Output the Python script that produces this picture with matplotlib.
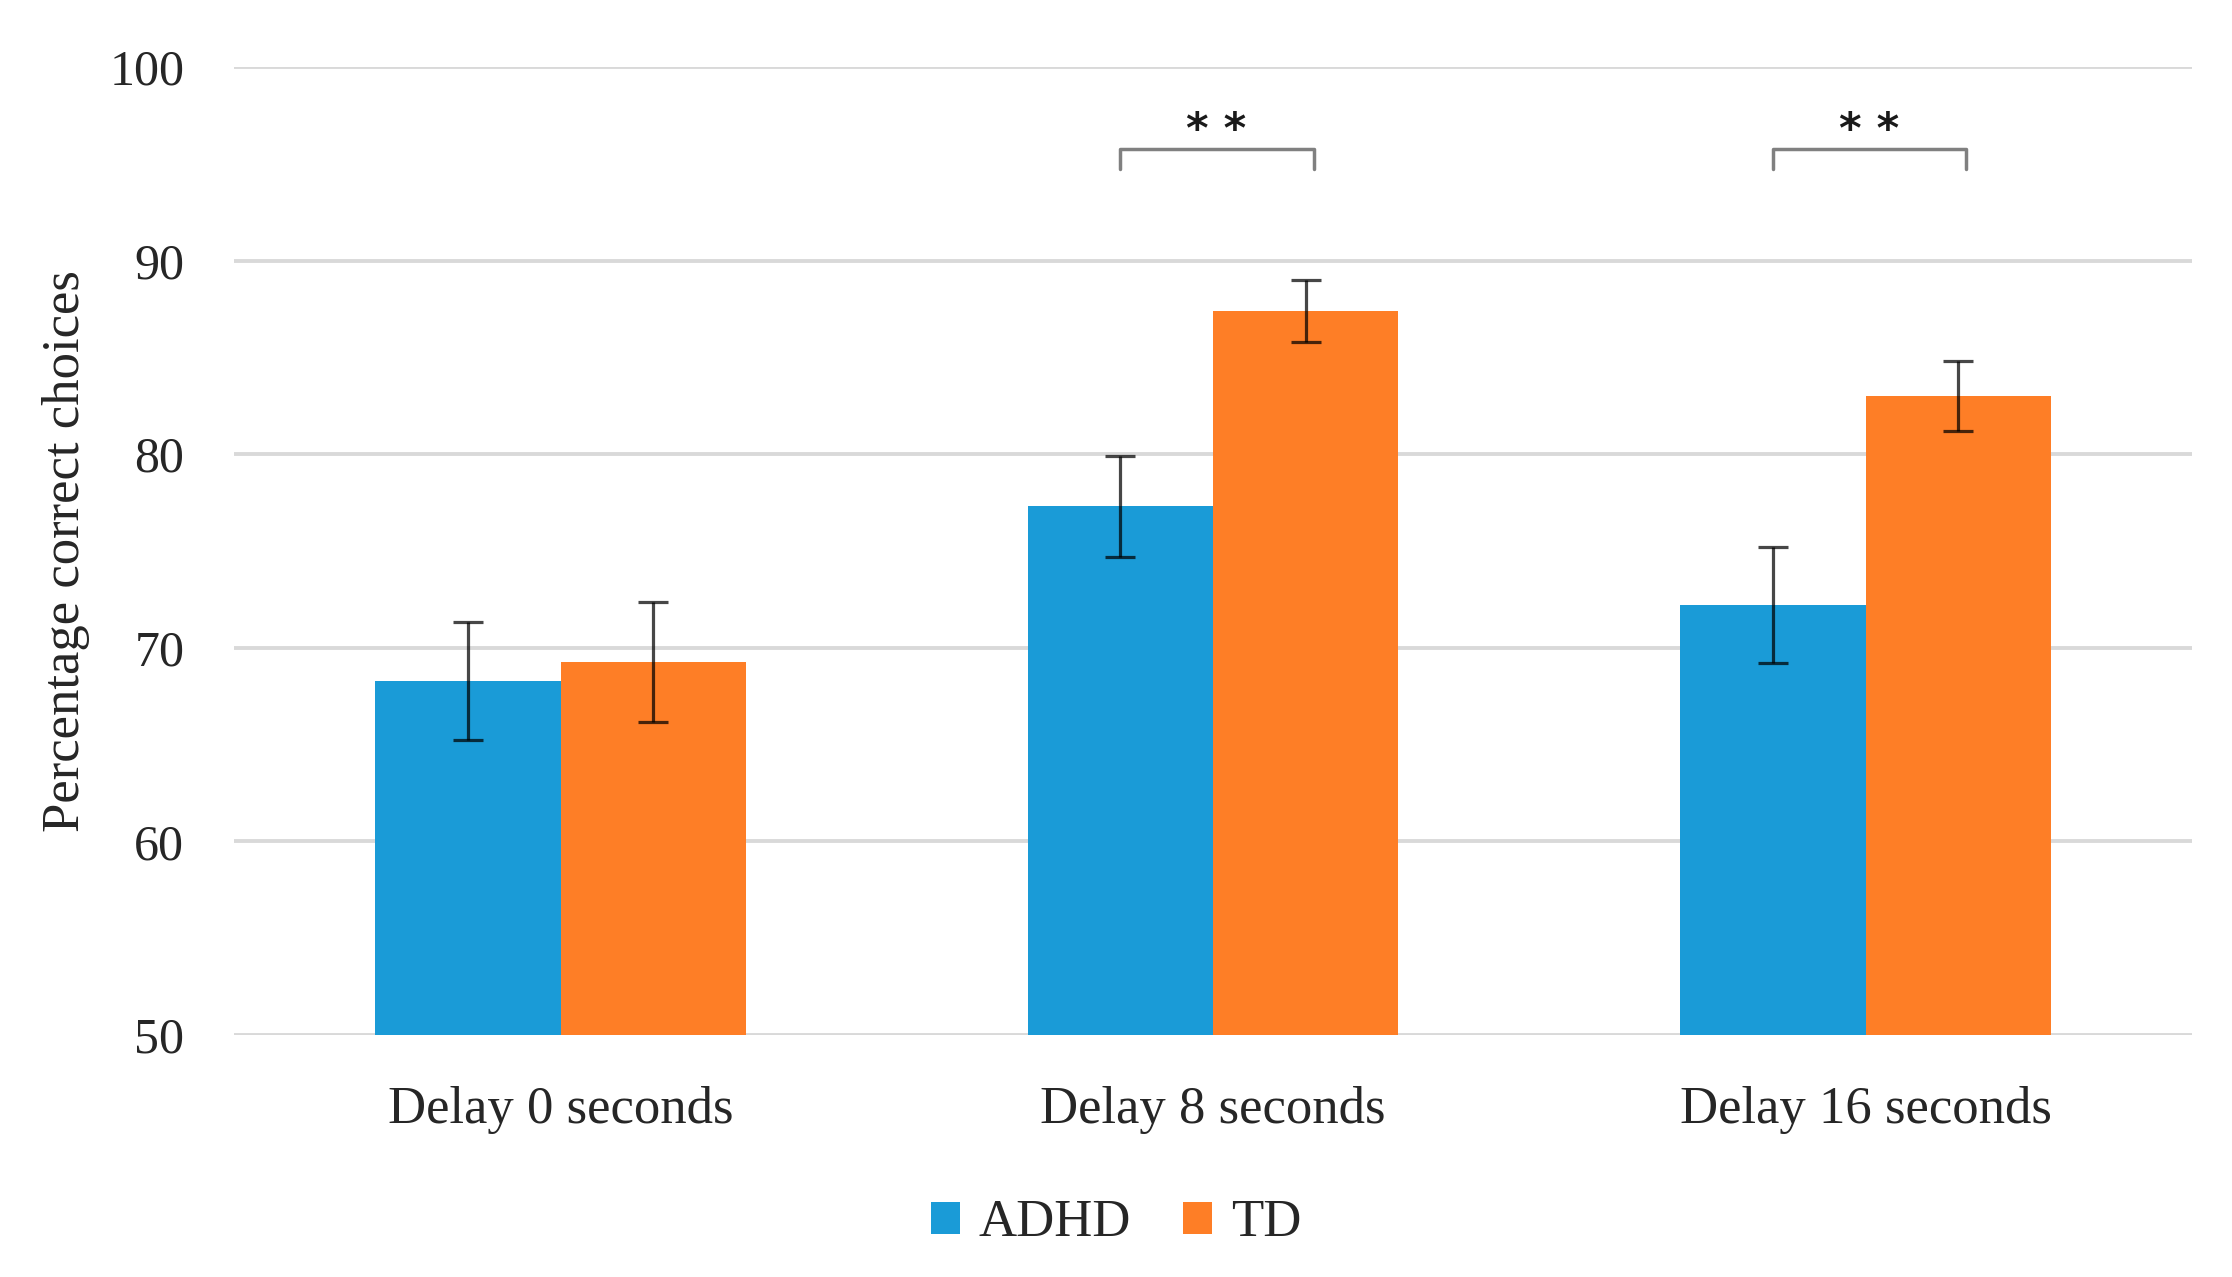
import matplotlib
matplotlib.use("Agg")
import matplotlib.pyplot as plt
import numpy as np

# données
delais = ["Delay 0 seconds", "Delay 8 seconds", "Delay 16 seconds"]
adhd = [68.3, 77.3, 72.2]
adhd_err = [3.05, 2.6, 3.0]
td = [69.25, 87.4, 83.0]
td_err = [3.1, 1.6, 1.8]
signif = ["", "**", "**"]

bleu = "#1a9bd7"
orange = "#fe7e26"
texte = "#262626"

plt.rcParams['font.family'] = ['Liberation Serif', 'DejaVu Serif']

fig = plt.figure(figsize=(22.32, 12.77), dpi=100)
ax = fig.add_axes([0.105, 0.1895, 0.877, 0.758])

x = np.arange(len(delais))
w = 0.284
ax.bar(x - w / 2, adhd, w, color=bleu, label="ADHD", zorder=2)
ax.bar(x + w / 2, td, w, color=orange, label="TD", zorder=2)
ax.errorbar(x - w / 2, adhd, yerr=adhd_err, fmt="none", ecolor="k", alpha=0.72,
            elinewidth=2.3, capsize=11, capthick=2.3, zorder=3)
ax.errorbar(x + w / 2, td, yerr=td_err, fmt="none", ecolor="k", alpha=0.72,
            elinewidth=2.3, capsize=11, capthick=2.3, zorder=3)

# crochets de significativité
for i, s in enumerate(signif):
    if not s:
        continue
    x1, x2 = i - w / 2, i + w / 2 + 0.012
    ax.plot([x1, x1, x2, x2], [94.75, 95.75, 95.75, 94.75], color="#808080",
            lw=2.5, solid_joinstyle="round", solid_capstyle="round", zorder=3)
    ax.text(i + 0.005, 96.7, "* *", ha="center", va="center", fontsize=31,
            family="DejaVu Sans", fontweight="bold", color="#1a1a1a")

ax.set_xlim(-0.5, 2.5)
ax.set_ylim(50, 100)
ax.set_yticks([50, 60, 70, 80, 90, 100])
ax.set_xticks(x)
ax.set_xticklabels(delais)
ax.tick_params(axis="both", length=0, colors=texte)
ax.tick_params(axis="x", pad=37, labelsize=38)
ax.tick_params(axis="y", pad=36, labelsize=36)
ax.grid(axis="y", color="#d9d9d9", lw=2.8, zorder=0)
for sp in ax.spines.values():
    sp.set_visible(False)
ax.set_ylabel("Percentage correct choices", fontsize=38, color=texte, labelpad=14)

fig.legend(loc="center", bbox_to_anchor=(0.5, 0.042), ncol=2, frameon=False,
           fontsize=38, handlelength=0.55, handleheight=0.55, handletextpad=0.35,
           columnspacing=1.0, labelcolor=texte)

fig.savefig("out.png", dpi=100, facecolor="white")
